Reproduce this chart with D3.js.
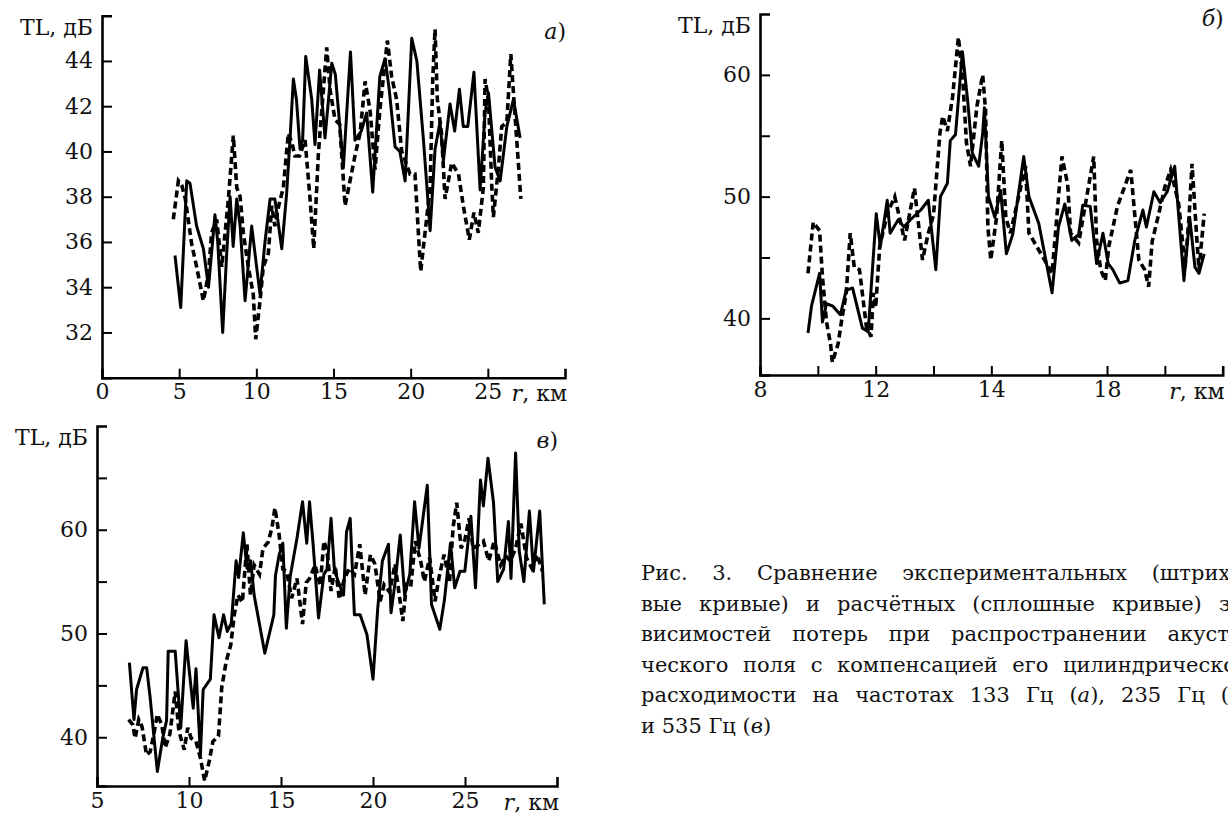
<!DOCTYPE html>
<html>
<head>
<meta charset="utf-8">
<script src="https://cdn.jsdelivr.net/npm/d3@7"></script>
<style>
  body { margin: 0; background: #fff; }
  svg { display: block; }
  text { font-family: "DejaVu Serif", serif; fill: #111; }
</style>
</head>
<body>
<script>
// Panel a) 133 Hz : r (km), TL (dB)
const aSolidR  = [4.73,5.1,5.49,5.7,6.13,6.57,6.9,7.32,7.5,7.82,8.08,8.3,8.5,8.73,8.95,9.27,9.7,10.0,10.24,10.56,10.89,11.2,11.65,11.96,12.18,12.4,12.6,12.83,13.0,13.2,13.59,13.8,14.1,14.45,14.89,15.12,15.64,16.1,16.39,16.8,17.15,17.54,18.0,18.34,18.6,18.99,19.3,19.64,20.07,20.4,20.83,21.26,21.58,21.9,22.12,22.55,22.85,23.16,23.41,23.7,24.1,24.5,24.82,25.04,25.47,25.8,26.23,26.66,27.09];
const aSolidTL = [35.4,33.1,38.7,38.6,36.7,35.7,34.0,37.2,36.0,32.0,35.5,38.0,35.8,37.9,36.7,33.4,36.7,35.0,33.7,36.0,37.9,37.9,35.7,38.1,40.5,43.2,42.3,40.1,40.5,44.2,42.3,40.3,43.6,40.6,43.9,43.4,39.3,44.4,40.5,40.9,41.7,38.2,43.3,44.1,42.8,40.2,40.0,38.7,45.0,44.0,40.5,36.5,40.1,41.3,39.6,42.1,40.9,42.75,41.1,41.1,43.5,38.3,41.7,42.6,39.3,38.7,41.1,42.3,40.6];
const aDashR   = [4.62,4.95,5.17,5.4,5.81,6.1,6.57,6.9,7.1,7.43,7.76,8.19,8.51,8.73,8.95,9.16,9.48,9.8,9.96,10.24,10.45,10.78,11.0,11.2,11.45,11.75,12.07,12.3,12.5,12.8,13.16,13.48,13.72,14.02,14.56,14.78,15.1,15.4,15.75,16.07,16.39,16.72,17.05,17.37,17.69,18.0,18.49,18.77,19.09,19.42,19.96,20.28,20.5,20.65,20.93,21.26,21.43,21.58,21.73,22.0,22.23,22.66,23.1,23.41,23.8,24.1,24.38,24.71,24.82,25.04,25.26,25.36,25.69,25.9,26.23,26.49,26.77,27.14];
const aDashTL  = [37.0,38.7,38.5,37.9,35.9,35.0,33.4,34.6,36.4,37.0,34.9,37.9,40.7,38.4,38.0,36.4,34.9,33.7,31.7,33.4,34.9,35.5,37.6,36.7,37.6,38.4,40.8,40.4,39.8,39.8,40.5,37.9,35.7,39.9,44.6,42.7,41.4,41.2,37.6,38.7,39.8,40.8,43.1,41.8,39.2,41.8,44.9,43.3,42.3,40.0,39.0,39.0,36.4,34.7,36.4,38.4,43.2,45.4,42.3,40.8,37.9,39.5,39.0,37.6,36.1,37.3,36.4,38.4,43.2,42.3,38.4,37.1,39.3,41.1,41.3,44.3,41.5,37.9];
const aXTicks  = [0, 5, 10, 15, 20, 25];
const aXLabels = ['0', '5', '10', '15', '20', '25'];
const aYTicks  = [32, 34, 36, 38, 40, 42, 44];
const aYLabels = ['32', '34', '36', '38', '40', '42', '44'];

// Panel б) 235 Hz : r in axis tick units, TL (dB)
const bSolidR  = [8.83,8.89,9.03,9.08,9.15,9.26,9.39,9.49,9.6,9.77,9.87,10.01,10.08,10.2,10.25,10.39,10.49,10.6,10.78,10.91,11.04,11.12,11.24,11.29,11.38,11.5,11.59,11.67,11.78,11.85,11.88,11.95,12.06,12.16,12.26,12.37,12.56,12.65,12.82,13.05,13.16,13.27,13.39,13.51,13.58,13.71,13.82,13.93,14.02,14.1,14.22,14.36,14.48,14.62,14.68,14.81,14.92,15.04,15.17,15.33,15.43,15.52,15.59,15.68];
const bSolidTL = [38.8,41.0,43.7,39.7,41.2,41.0,40.3,42.3,42.5,39.2,38.9,48.6,45.9,49.7,47.0,48.1,47.5,48.1,48.9,49.7,44.0,50.0,51.1,54.6,55.1,61.9,57.9,53.6,52.5,55.2,57.3,50.0,48.3,50.5,45.3,46.9,53.3,50.0,47.8,42.1,47.5,49.4,46.4,46.9,49.3,49.2,44.5,47.0,44.5,44.0,42.9,43.1,46.4,48.9,47.5,50.4,49.5,50.4,52.5,43.1,48.3,44.2,43.7,45.3];
const bDashR   = [8.83,8.92,9.03,9.08,9.15,9.22,9.25,9.35,9.42,9.49,9.56,9.63,9.72,9.84,9.92,9.96,10.0,10.07,10.2,10.33,10.5,10.67,10.81,10.91,11.0,11.11,11.16,11.24,11.33,11.43,11.5,11.57,11.64,11.75,11.85,11.9,11.94,11.99,12.09,12.18,12.25,12.33,12.59,12.65,12.92,13.05,13.22,13.32,13.37,13.51,13.77,13.82,13.89,13.97,14.03,14.18,14.41,14.48,14.55,14.65,14.72,14.78,14.88,15.0,15.1,15.24,15.35,15.42,15.47,15.55,15.59,15.68];
const bDashTL  = [43.7,47.9,47.2,43.4,39.7,37.9,36.4,37.9,40.1,42.0,47.0,44.2,44.0,39.3,38.5,42.1,40.9,45.9,48.6,50.0,46.4,50.7,44.8,47.0,48.5,55.2,56.6,55.4,58.2,63.1,60.1,54.4,52.5,57.4,60.0,57.1,47.5,44.8,48.3,54.6,48.3,47.0,52.5,47.0,44.8,43.7,53.3,51.0,47.0,46.2,53.3,46.4,44.0,43.1,45.9,49.2,52.2,48.5,44.8,44.0,42.6,46.3,48.3,50.8,52.2,49.4,44.2,48.5,52.7,46.7,44.0,48.6];
const bXTicks  = [8, 9, 10, 11, 12, 13, 14, 15];
const bXLabels = ['8', '', '12', '', '14', '', '18', ''];
const bYTicks  = [40, 45, 50, 55, 60];
const bYLabels = ['40', '', '50', '', '60'];

// Panel в) 535 Hz : r (km), TL (dB)
const cSolidR  = [6.76,7.01,7.15,7.5,7.7,7.89,8.28,8.57,8.78,8.87,9.25,9.55,9.84,10.23,10.38,10.62,10.77,11.16,11.36,11.63,11.88,12.08,12.3,12.56,12.7,12.95,13.15,13.35,13.54,14.12,14.61,14.7,14.9,15.1,15.29,15.5,15.87,16.17,16.4,16.55,16.75,17.04,17.33,17.5,17.72,17.9,18.11,18.4,18.56,18.76,18.99,19.3,19.67,20.0,20.26,20.51,20.84,20.98,21.2,21.48,21.72,22.0,22.26,22.5,22.95,23.18,23.63,23.88,24.21,24.44,24.73,24.99,25.32,25.57,25.84,26.0,26.25,26.55,26.78,27.1,27.36,27.5,27.75,27.95,28.2,28.5,28.72,29.06,29.31];
const cSolidTL = [47.2,41.7,44.6,46.7,46.7,43.8,36.7,39.9,41.6,48.3,48.3,40.9,49.3,42.8,46.6,38.3,44.6,45.6,51.8,49.6,51.8,50.2,51.0,57.0,55.4,59.7,56.3,57.0,53.7,48.1,51.8,55.6,57.6,58.7,50.5,55.5,59.2,62.7,58.7,62.7,58.5,51.5,55.7,56.2,61.1,56.2,55.0,53.7,59.8,61.1,51.8,51.8,49.9,45.6,52.5,57.0,58.6,52.0,54.9,59.5,53.7,55.7,62.7,58.2,64.3,52.8,50.4,53.2,58.7,54.4,56.0,56.0,61.3,54.4,64.8,62.3,66.9,62.6,55.0,56.2,60.8,55.3,67.4,57.9,55.0,61.8,56.0,61.8,52.8];
const cDashR   = [6.72,6.95,7.07,7.27,7.45,7.69,7.89,8.09,8.28,8.52,8.71,8.96,9.25,9.45,9.74,9.93,10.12,10.38,10.62,10.85,11.1,11.3,11.6,11.78,12.02,12.27,12.46,12.66,12.9,13.15,13.34,13.54,13.83,14.02,14.3,14.51,14.67,14.9,15.1,15.3,15.58,15.87,16.17,16.37,16.55,16.85,17.13,17.33,17.5,17.72,17.95,18.17,18.4,18.7,19.0,19.28,19.57,19.86,20.1,20.39,20.6,20.9,21.2,21.62,21.81,22.05,22.3,22.6,22.79,23.08,23.37,23.6,23.86,24.16,24.35,24.55,24.79,25.0,25.22,25.44,25.7,26.0,26.29,26.59,26.94,27.2,27.46,27.75,28.04,28.34,28.63,28.92,29.21];
const cDashTL  = [41.7,41.2,39.9,41.7,41.0,38.3,38.6,40.3,42.2,41.2,39.0,40.3,44.4,40.6,38.8,40.9,39.9,39.6,38.0,35.8,37.7,39.6,40.1,44.8,47.3,48.9,51.8,53.7,53.0,58.6,53.7,56.6,55.7,58.2,58.8,60.2,62.1,59.5,56.2,56.0,53.4,55.3,50.9,54.9,55.3,56.6,54.6,58.9,58.0,54.1,56.5,53.3,55.0,56.3,55.7,58.6,53.7,57.6,56.7,53.1,54.7,54.0,56.7,51.2,54.7,54.5,58.9,56.9,55.0,57.3,53.1,55.5,57.6,55.0,60.2,62.6,58.2,59.1,61.1,58.2,58.5,58.9,57.0,58.9,56.6,57.5,57.0,58.2,60.6,57.3,56.3,57.6,56.0];
const cXTicks  = [5, 10, 15, 20, 25];
const cXLabels = ['5', '10', '15', '20', '25'];
const cYTicks  = [40, 45, 50, 55, 60, 65];
const cYLabels = ['40', '', '50', '', '60', ''];

// Caption lines (text runs past the right edge as in the original)
const captionLines = [
  [['Рис. 3. Сравнение экспериментальных (штрихо-', false]],
  [['вые кривые) и расчётных (сплошные кривые) за-', false]],
  [['висимостей потерь при распространении акусти-', false]],
  [['ческого поля с компенсацией его цилиндрической', false]],
  [['расходимости на частотах 133 Гц (', false], ['а', true], ['), 235 Гц (', false], ['б', true], [')', false]],
  [['и 535 Гц (', false], ['в', true], [')', false]]
];

const width = 1228, height = 818;
const fontSize = 22;

const svg = d3.select('body')
    .append('svg')
    .attr('width', width)
    .attr('height', height);

function labelOf(vals, labels) {
    return d => {
        const i = vals.indexOf(d);
        return i < 0 ? '' : labels[i];
    };
}

function drawPanel(p) {
    const x = d3.scaleLinear().domain(p.xDomain).range([p.left, p.right]);
    const y = d3.scaleLinear().domain(p.yDomain).range([p.bottom, p.top]);
    const g = svg.append('g');

    // y axis: ticks point inward, cap at top
    const yAxis = d3.axisLeft(y)
        .tickValues(p.yTicks)
        .tickSizeInner(-10)
        .tickSizeOuter(-10)
        .tickPadding(9)
        .tickFormat(labelOf(p.yTicks, p.yLabels));
    const gy = g.append('g')
        .attr('transform', `translate(${p.left},0)`)
        .call(yAxis);

    // x axis: ticks point up, cap at the right end
    const xAxis = d3.axisBottom(x)
        .tickValues(p.xTicks)
        .tickSizeInner(-9)
        .tickSizeOuter(-9)
        .tickPadding(6)
        .tickFormat(labelOf(p.xTicks, p.xLabels));
    const gx = g.append('g')
        .attr('transform', `translate(0,${p.bottom})`)
        .call(xAxis);

    [gx, gy].forEach(a => {
        a.attr('font-family', '"DejaVu Serif", serif')
         .attr('font-size', fontSize);
        a.select('.domain').attr('stroke', '#000').attr('stroke-width', 2.6);
        a.selectAll('.tick line').attr('stroke', '#000').attr('stroke-width', 2);
        a.selectAll('.tick text').attr('fill', '#111');
    });

    // curves: solid = calculated, dashed = experiment
    const line = d3.line().x(d => x(d[0])).y(d => y(d[1]));
    g.append('path')
        .datum(d3.zip(p.solidR, p.solidTL))
        .attr('d', line)
        .attr('fill', 'none')
        .attr('stroke', '#000')
        .attr('stroke-width', 3)
        .attr('stroke-linejoin', 'round');
    g.append('path')
        .datum(d3.zip(p.dashR, p.dashTL))
        .attr('d', line)
        .attr('fill', 'none')
        .attr('stroke', '#000')
        .attr('stroke-width', 3.6)
        .attr('stroke-dasharray', '7,4');

    // axis titles
    g.append('text')
        .attr('x', p.left - 9)
        .attr('y', p.top + 19)
        .attr('text-anchor', 'end')
        .attr('font-size', fontSize)
        .text('TL, дБ');

    const rt = g.append('text')
        .attr('x', p.right + 2)
        .attr('y', p.bottom + 6 + fontSize * 0.71 + 2)
        .attr('text-anchor', 'end')
        .attr('font-size', fontSize);
    rt.append('tspan').attr('font-style', 'italic').text('r');
    rt.append('tspan').text(', км');

    // panel letter
    const lt = g.append('text')
        .attr('x', p.right + 1)
        .attr('y', p.letterY)
        .attr('text-anchor', 'end')
        .attr('font-size', fontSize);
    lt.append('tspan').attr('font-style', 'italic').text(p.letter);
    lt.append('tspan').text(')');
}

drawPanel({
    solidR: aSolidR, solidTL: aSolidTL, dashR: aDashR, dashTL: aDashTL,
    xTicks: aXTicks, xLabels: aXLabels, yTicks: aYTicks, yLabels: aYLabels,
    xDomain: [0, 30], yDomain: [30, 46],
    left: 102, right: 565, top: 15.7, bottom: 377.7,
    letter: 'а', letterY: 39
});

drawPanel({
    solidR: bSolidR, solidTL: bSolidTL, dashR: bDashR, dashTL: bDashTL,
    xTicks: bXTicks, xLabels: bXLabels, yTicks: bYTicks, yLabels: bYLabels,
    xDomain: [8, 16], yDomain: [35.35, 65],
    left: 760, right: 1222.7, top: 14, bottom: 375,
    letter: 'б', letterY: 26
});

drawPanel({
    solidR: cSolidR, solidTL: cSolidTL, dashR: cDashR, dashTL: cDashTL,
    xTicks: cXTicks, xLabels: cXLabels, yTicks: cYTicks, yLabels: cYLabels,
    xDomain: [5, 30], yDomain: [35.3, 70],
    left: 97, right: 557, top: 426, bottom: 786,
    letter: 'в', letterY: 448
});

// Caption, justified to a fixed measure; its right part runs off the page
const capX = 641, capRight = 1250, capY0 = 580, capStep = 30.5;
captionLines.forEach((parts, i) => {
    const t = svg.append('text')
        .attr('x', capX)
        .attr('y', capY0 + i * capStep)
        .attr('font-size', 21);
    parts.forEach(([s, it]) => {
        t.append('tspan').attr('font-style', it ? 'italic' : null).text(s);
    });
    if (i < captionLines.length - 1) {
        const full = parts.map(q => q[0]).join('');
        const spaces = (full.match(/ /g) || []).length;
        const extra = (capRight - capX) - t.node().getComputedTextLength();
        if (spaces > 0) t.attr('word-spacing', extra / spaces);
    }
});
</script>
</body>
</html>
